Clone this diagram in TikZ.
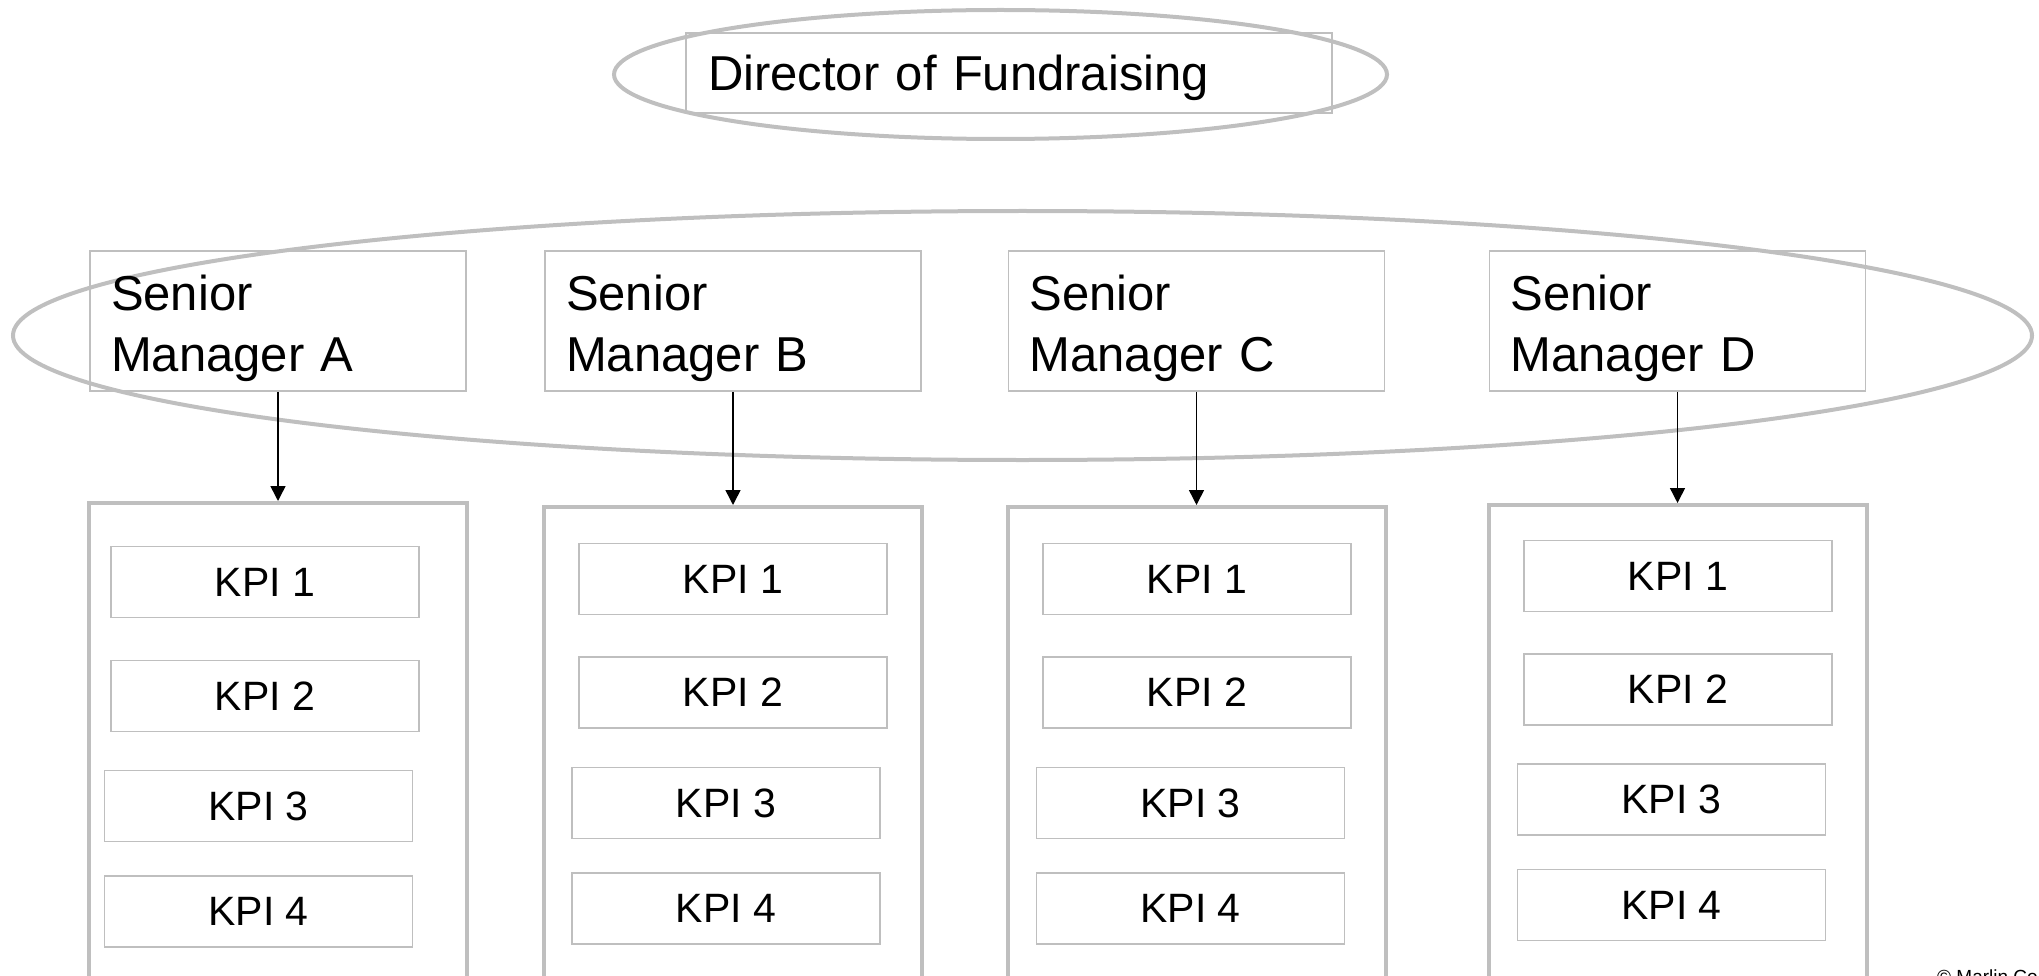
\documentclass[tikz,border=0pt]{standalone}
\usepackage{fontspec}
\setmainfont{Liberation Sans}
\usetikzlibrary{arrows.meta}
\definecolor{linegray}{HTML}{BFBFBF}
\tikzset{
  ring/.style={draw=linegray, line width=4pt},
  dirbox/.style={draw=linegray, line width=1.5pt, minimum width=646pt, minimum height=80pt,
    inner xsep=22pt, inner ysep=0pt, text width=602pt, text depth=0pt, align=left,
    font=\fontsize{49}{58}\selectfont},
  mgrbox/.style={draw=linegray, line width=1.5pt, minimum width=376pt, minimum height=140pt,
    inner xsep=21pt, inner ysep=0pt, text width=334pt, text depth=57pt, align=left,
    font=\fontsize{49}{61}\selectfont},
  groupbox/.style={draw=linegray, line width=4pt, anchor=north, minimum width=378pt,
    minimum height=520pt},
  kpibox/.style={draw=linegray, line width=1.5pt, minimum width=308pt, minimum height=71pt,
    inner sep=0pt, font=\fontsize{41}{49}\selectfont},
  link/.style={draw=black, line width=1.5pt, -{Triangle[length=15pt,width=15pt]}},
}
\begin{document}
\begin{tikzpicture}[x=1pt,y=-1pt]
\useasboundingbox (0,0) rectangle (2039,976);

% rings around the director and the senior managers
\draw[ring] (1000.5,74.5) ellipse [x radius=386.5, y radius=64.5];
\draw[ring] (1022.5,335.5) ellipse [x radius=1009.5, y radius=124.5];

% director
\node[dirbox] (dir) at (1009,73) {Director of Fundraising};

% senior managers
\node[mgrbox] (smA) at (278,321)    {Senior\\Manager A};
\node[mgrbox] (smB) at (733,321)    {Senior\\Manager B};
\node[mgrbox] (smC) at (1196.5,321) {Senior\\Manager C};
\node[mgrbox] (smD) at (1677.5,321) {Senior\\Manager D};

% KPI groups
\node[groupbox] (grpA) at (278,501)    {};
\node[groupbox] (grpB) at (733,505)    {};
\node[groupbox] (grpC) at (1196.5,505) {};
\node[groupbox] (grpD) at (1677.5,503) {};

% KPIs of manager A
\node[kpibox] (a1) at (265,582)    {KPI 1};
\node[kpibox] (a2) at (265,696)    {KPI 2};
\node[kpibox] (a3) at (258.5,806)  {KPI 3};
\node[kpibox] (a4) at (258.5,911.5){KPI 4};
% KPIs of manager B
\node[kpibox] (b1) at (733,579)    {KPI 1};
\node[kpibox] (b2) at (733,692.5)  {KPI 2};
\node[kpibox] (b3) at (726,803)    {KPI 3};
\node[kpibox] (b4) at (726,908.5)  {KPI 4};
% KPIs of manager C
\node[kpibox] (c1) at (1197,579)   {KPI 1};
\node[kpibox] (c2) at (1197,692.5) {KPI 2};
\node[kpibox] (c3) at (1190.5,803) {KPI 3};
\node[kpibox] (c4) at (1190.5,908.5){KPI 4};
% KPIs of manager D
\node[kpibox] (d1) at (1678,576)   {KPI 1};
\node[kpibox] (d2) at (1678,689.5) {KPI 2};
\node[kpibox] (d3) at (1671.5,799.5){KPI 3};
\node[kpibox] (d4) at (1671.5,905) {KPI 4};

% manager to KPI group
\draw[link] (smA.south) -- (grpA.north);
\draw[link] (smB.south) -- (grpB.north);
\draw[link] (smC.south) -- (grpC.north);
\draw[link] (smD.south) -- (grpD.north);

% footer, running off the lower edge
\node[anchor=base west, inner sep=0pt, font=\fontsize{19}{23}\selectfont] (copy) at (1937,983) {© Marlin Company};
\end{tikzpicture}
\end{document}
